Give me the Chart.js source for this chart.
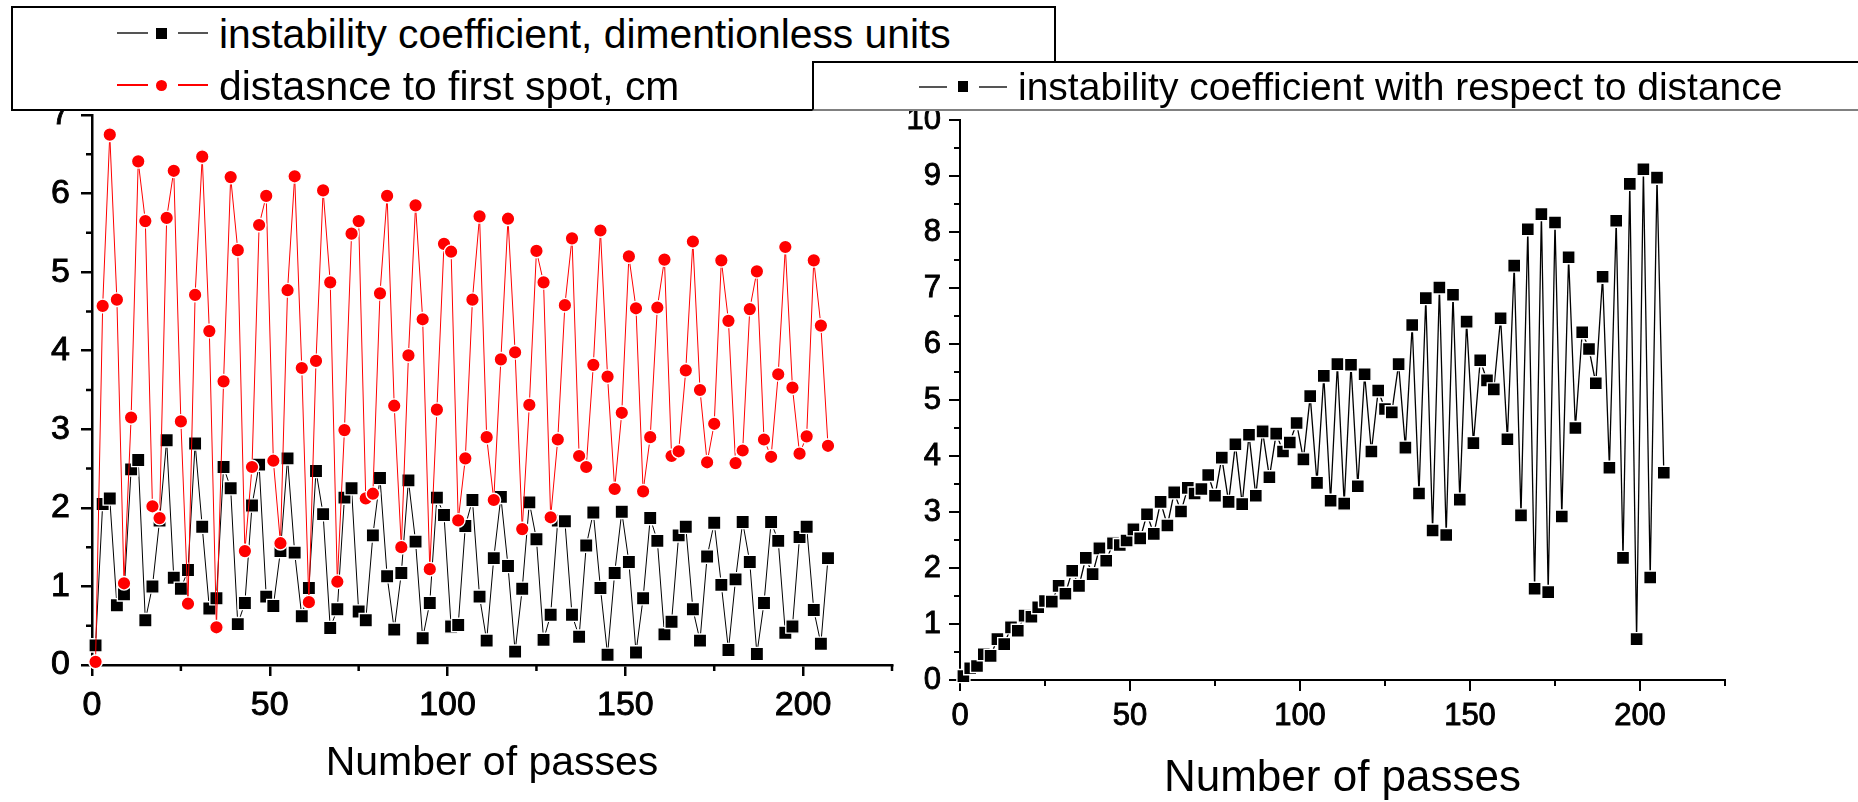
<!DOCTYPE html>
<html lang="en">
<head>
<meta charset="UTF-8">
<title>Instability coefficient vs number of passes</title>
<script src="https://cdn.jsdelivr.net/npm/chart.js"></script>
<style>
  html, body { margin: 0; padding: 0; background: #fff; }
  body {
    width: 1858px; height: 802px; position: relative; overflow: hidden;
    font-family: 'Liberation Sans', Arial, sans-serif;
  }
  canvas { position: absolute; top: 0; }
  #leftChart { left: 0; z-index: 1; }
  #rightChart { left: 820px; z-index: 1; }
  .box { position: absolute; background: #fff; box-sizing: border-box; }
  #legendLeft { left: 11px; top: 6px; width: 1045px; height: 105px; border: 2px solid #000; z-index: 2; }
  #legendRight { left: 812px; top: 61px; width: 1080px; height: 50px; border: 2px solid #000; border-bottom-color: #808080; z-index: 4; }
  .txt { position: absolute; white-space: nowrap; color: #000; }
  .seg { position: absolute; height: 1.5px; }
  .sym { position: absolute; }
  .z3 { z-index: 3; }
  .z5 { z-index: 5; }
  .big { font-size: 40.8px; line-height: 40.8px; }
  .mid { font-size: 39px; line-height: 39px; }
</style>
</head>
<body>
  <canvas id="leftChart" width="930" height="802"></canvas>
  <canvas id="rightChart" width="1038" height="802"></canvas>

  <!-- legend of the left plot -->
  <div class="box" id="legendLeft"></div>
  <div class="seg z3" style="left:117px; top:32.25px; width:31px; background:#555;"></div>
  <div class="sym z3" style="left:155.5px; top:27.5px; width:11px; height:11px; background:#000;"></div>
  <div class="seg z3" style="left:178px; top:32.25px; width:30px; background:#555;"></div>
  <div class="txt big z3" style="left:219px; top:13.5px;">instability coefficient, dimentionless units</div>

  <div class="seg z3" style="left:117px; top:84.25px; width:31px; background:#f00;"></div>
  <div class="sym z3" style="left:155.5px; top:79.5px; width:11px; height:11px; border-radius:50%; background:#f00;"></div>
  <div class="seg z3" style="left:178px; top:84.25px; width:30px; background:#f00;"></div>
  <div class="txt big z3" style="left:219px; top:65.5px;">distasnce to first spot, cm</div>

  <!-- legend of the right plot -->
  <div class="box" id="legendRight"></div>
  <div class="seg z5" style="left:919px; top:86px; width:28px; background:#555;"></div>
  <div class="sym z5" style="left:957.7px; top:81.4px; width:10.5px; height:10.5px; background:#000;"></div>
  <div class="seg z5" style="left:979px; top:86px; width:28px; background:#555;"></div>
  <div class="txt mid z5" style="left:1018px; top:67px;">instability coefficient with respect to distance</div>

<script>
// Number of passes at which every measurement was taken
const passes = [
  1, 3, 5, 7, 9, 11, 13, 15, 17, 19, 21, 23, 25, 27, 29, 31, 33, 35, 37, 39,
  41, 43, 45, 47, 49, 51, 53, 55, 57, 59, 61, 63, 65, 67, 69, 71, 73, 75, 77, 79,
  81, 83, 85, 87, 89, 91, 93, 95, 97, 99, 101, 103, 105, 107, 109, 111, 113, 115, 117, 119,
  121, 123, 125, 127, 129, 131, 133, 135, 137, 139, 141, 143, 145, 147, 149, 151, 153, 155, 157, 159,
  161, 163, 165, 167, 169, 171, 173, 175, 177, 179, 181, 183, 185, 187, 189, 191, 193, 195, 197, 199,
  201, 203, 205, 207
];

// instability coefficient, dimensionless
const instabilityCoef = [
  0.25, 2.05, 2.12, 0.76, 0.90, 2.49, 2.61, 0.57, 1.00, 1.84, 2.86, 1.11, 0.97, 1.21, 2.82, 1.76, 0.72, 0.85, 2.52, 2.25,
  0.52, 0.79, 2.03, 2.55, 0.87, 0.75, 1.45, 2.63, 1.43, 0.62, 0.98, 2.47, 1.92, 0.47, 0.71, 2.13, 2.25, 0.68, 0.57, 1.65,
  2.38, 1.13, 0.45, 1.17, 2.35, 1.57, 0.34, 0.79, 2.13, 1.91, 0.49, 0.51, 1.77, 2.10, 0.87, 0.31, 1.36, 2.14, 1.26, 0.17,
  0.97, 2.07, 1.60, 0.32, 0.64, 1.84, 1.83, 0.64, 0.36, 1.52, 1.94, 0.98, 0.13, 1.17, 1.95, 1.31, 0.16, 0.85, 1.87, 1.58,
  0.39, 0.55, 1.65, 1.76, 0.71, 0.31, 1.38, 1.81, 1.02, 0.19, 1.09, 1.82, 1.31, 0.14, 0.79, 1.82, 1.58, 0.41, 0.49, 1.63,
  1.76, 0.70, 0.27, 1.36
];

// distance to the first spot, cm
const distanceToFirstSpot = [
  0.04, 4.57, 6.75, 4.65, 1.04, 3.15, 6.41, 5.65, 2.02, 1.87, 5.69, 6.29, 3.10, 0.78, 4.71, 6.47, 4.25, 0.48, 3.61, 6.21,
  5.28, 1.45, 2.52, 5.60, 5.97, 2.60, 1.55, 4.77, 6.22, 3.78, 0.80, 3.87, 6.04, 4.87, 1.06, 2.99, 5.49, 5.65, 2.12, 2.18,
  4.73, 5.97, 3.30, 1.50, 3.94, 5.85, 4.40, 1.22, 3.25, 5.36, 5.26, 1.84, 2.63, 4.65, 5.71, 2.90, 2.10, 3.89, 5.68, 3.98,
  1.73, 3.31, 5.27, 4.87, 1.88, 2.87, 4.58, 5.43, 2.66, 2.52, 3.82, 5.53, 3.67, 2.24, 3.21, 5.20, 4.54, 2.21, 2.90, 4.55,
  5.16, 2.66, 2.72, 3.75, 5.39, 3.50, 2.58, 3.07, 5.15, 4.38, 2.57, 2.73, 4.53, 5.01, 2.87, 2.65, 3.70, 5.32, 3.53, 2.69,
  2.91, 5.15, 4.32, 2.79
];

// instability coefficient with respect to distance
const instabilityPerDistance = [
  0.07, 0.21, 0.25, 0.46, 0.43, 0.73, 0.64, 0.94, 0.88, 1.15, 1.13, 1.30, 1.41, 1.40, 1.68, 1.54, 1.95, 1.68, 2.18, 1.89,
  2.35, 2.13, 2.44, 2.41, 2.49, 2.69, 2.53, 2.96, 2.61, 3.18, 2.76, 3.35, 3.01, 3.43, 3.33, 3.41, 3.66, 3.29, 3.97, 3.18,
  4.21, 3.14, 4.38, 3.29, 4.44, 3.62, 4.40, 4.08, 4.24, 4.59, 3.94, 5.07, 3.52, 5.43, 3.20, 5.64, 3.15, 5.63, 3.46, 5.46,
  4.08, 5.17, 4.84, 4.78, 5.64, 4.15, 6.34, 3.33, 6.82, 2.67, 7.01, 2.59, 6.88, 3.22, 6.40, 4.23, 5.71, 5.35, 5.19, 6.46,
  4.30, 7.40, 2.94, 8.05, 1.63, 8.32, 1.57, 8.17, 2.92, 7.55, 4.50, 6.21, 5.91, 5.30, 7.20, 3.79, 8.20, 2.18, 8.86, 0.73,
  9.12, 1.83, 8.97, 3.70
];

// axis ticks
const xTicks = [0, 50, 100, 150, 200];
const xMinorTicks = [25, 75, 125, 175, 225];
const leftYTicks = [0, 1, 2, 3, 4, 5, 6, 7];
const leftYMinorTicks = [0.5, 1.5, 2.5, 3.5, 4.5, 5.5, 6.5];
const rightYTicks = [0, 1, 2, 3, 4, 5, 6, 7, 8, 9, 10];
const rightYMinorTicks = [0.5, 1.5, 2.5, 3.5, 4.5, 5.5, 6.5, 7.5, 8.5, 9.5];

const FONT = "'Liberation Sans', Arial, sans-serif";
Chart.defaults.font.family = FONT;
Chart.defaults.color = '#000';

function toPoints(values) {
  return passes.map((x, i) => ({ x: x, y: values[i] }));
}

// short outward ticks between the labelled ones
const minorTicks = {
  id: 'minorTicks',
  afterDraw(chart, args, opts) {
    const { ctx, chartArea, scales } = chart;
    ctx.save();
    ctx.strokeStyle = '#000';
    ctx.lineWidth = opts.width;
    ctx.beginPath();
    opts.x.forEach(v => {
      const px = scales.x.getPixelForValue(v);
      ctx.moveTo(px, chartArea.bottom);
      ctx.lineTo(px, chartArea.bottom + opts.length);
    });
    opts.y.forEach(v => {
      const py = scales.y.getPixelForValue(v);
      ctx.moveTo(chartArea.left, py);
      ctx.lineTo(chartArea.left - opts.length, py);
    });
    ctx.stroke();
    ctx.restore();
  }
};

function axisX(height, tickFont, tickPad, titleSize, titlePad, lw) {
  return {
    type: 'linear', min: 0, max: 225,
    afterBuildTicks: s => { s.ticks = xTicks.map(v => ({ value: v })); },
    afterFit: s => { s.height = height; },
    grid: { drawOnChartArea: false, drawTicks: true, tickLength: 11, lineWidth: lw, tickWidth: lw, tickColor: '#000' },
    border: { display: true, color: '#000', width: lw },
    ticks: {
      color: '#000', font: { size: tickFont }, padding: tickPad, maxRotation: 0, autoSkip: false,
      textStrokeColor: '#000', textStrokeWidth: 0.9
    },
    title: { display: true, text: 'Number of passes', color: '#000', font: { size: titleSize }, padding: { top: 0, bottom: titlePad } }
  };
}

function axisY(max, tickValues, width, tickFont, tickPad, lw) {
  return {
    type: 'linear', min: 0, max: max,
    afterBuildTicks: s => { s.ticks = tickValues.map(v => ({ value: v })); },
    afterFit: s => { s.width = width; },
    grid: { drawOnChartArea: false, drawTicks: true, tickLength: 11, lineWidth: lw, tickWidth: lw, tickColor: '#000' },
    border: { display: true, color: '#000', width: lw },
    ticks: {
      color: '#000', font: { size: tickFont }, padding: tickPad,
      textStrokeColor: '#000', textStrokeWidth: 0.9
    }
  };
}

// left plot: instability coefficient and distance
new Chart(document.getElementById('leftChart'), {
  type: 'line',
  data: {
    datasets: [
      {
        label: 'distasnce to first spot, cm',
        data: toPoints(distanceToFirstSpot),
        borderColor: '#ff0000', borderWidth: 1,
        pointStyle: 'circle', pointRadius: 6.8,
        pointBackgroundColor: '#ff0000', pointBorderColor: '#ffffff', pointBorderWidth: 1.4,
        clip: false, order: 0
      },
      {
        label: 'instability coefficient, dimentionless units',
        data: toPoints(instabilityCoef),
        borderColor: '#000000', borderWidth: 1,
        pointStyle: 'rect', pointRadius: 9.4,
        pointBackgroundColor: '#000000', pointBorderColor: '#ffffff', pointBorderWidth: 1.4,
        clip: false, order: 1
      }
    ]
  },
  options: {
    responsive: false, animation: false, devicePixelRatio: 1,
    layout: { padding: { left: 0, top: 115, right: 38, bottom: 0 } },
    plugins: {
      legend: { display: false }, tooltip: { enabled: false },
      minorTicks: { x: xMinorTicks, y: leftYMinorTicks, length: 6, width: 2.5 }
    },
    scales: {
      x: axisX(137, 34, 9, 41, 14, 2.5),
      y: axisY(7, leftYTicks, 92, 34, 11, 2.5)
    }
  },
  plugins: [minorTicks]
});

// right plot: coefficient divided by distance
new Chart(document.getElementById('rightChart'), {
  type: 'line',
  data: {
    datasets: [
      {
        label: 'instability coefficient with respect to distance',
        data: toPoints(instabilityPerDistance),
        borderColor: '#000000', borderWidth: 1.3,
        pointStyle: 'rect', pointRadius: 9.2,
        pointBackgroundColor: '#000000', pointBorderColor: '#ffffff', pointBorderWidth: 1.4,
        clip: false
      }
    ]
  },
  options: {
    responsive: false, animation: false, devicePixelRatio: 1,
    layout: { padding: { left: 0, top: 120, right: 133, bottom: 0 } },
    plugins: {
      legend: { display: false }, tooltip: { enabled: false },
      minorTicks: { x: xMinorTicks, y: rightYMinorTicks, length: 6, width: 2 }
    },
    scales: {
      x: axisX(122, 31, 7, 44, -3, 2),
      y: axisY(10, rightYTicks, 140, 31, 8, 2)
    }
  },
  plugins: [minorTicks]
});
</script>
</body>
</html>
